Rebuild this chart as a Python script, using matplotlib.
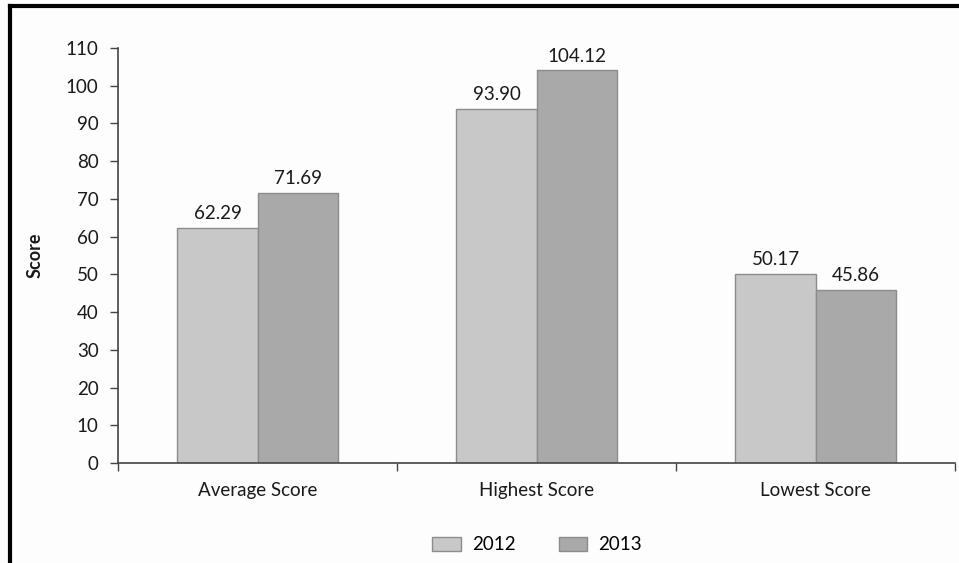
import matplotlib
matplotlib.use("Agg")
import matplotlib.pyplot as plt
from matplotlib.lines import Line2D
from matplotlib.patches import Patch
import numpy as np

categories = ["Average Score", "Highest Score", "Lowest Score"]
years = ["2012", "2013"]
scores_2012 = [62.29, 93.90, 50.17]
scores_2013 = [71.69, 104.12, 45.86]
labels_2012 = ["62.29", "93.90", "50.17"]
labels_2013 = ["71.69", "104.12", "45.86"]
yticks = list(range(0, 111, 10))

plt.rcParams["font.family"] = ["Lato", "DejaVu Sans"]

fig = plt.figure(figsize=(9.59, 5.63), dpi=100)
fig.patch.set_facecolor("#fdfdfd")
ax = fig.add_axes([118 / 959, 1 - 463 / 563, (955 - 118) / 959, (463 - 48) / 563])
ax.set_facecolor("#fdfdfd")

x = np.arange(len(categories))
w = 0.287
c12, c13, edge = "#c8c8c8", "#a9a9a9", "#8c8c8c"
b1 = ax.bar(x - w / 2, scores_2012, w, color=c12, edgecolor=edge, linewidth=1)
b2 = ax.bar(x + w / 2, scores_2013, w, color=c13, edgecolor=edge, linewidth=1)

for bars, labs in ((b1, labels_2012), (b2, labels_2013)):
    for bar, lab in zip(bars, labs):
        ax.annotate(lab, (bar.get_x() + bar.get_width() / 2, bar.get_height()),
                    xytext=(0, 4), textcoords="offset points",
                    ha="center", va="bottom", fontsize=13.5, color="#1a1a1a")

ax.set_xlim(-0.5, len(categories) - 0.5)
ax.set_ylim(0, 110)
ax.set_yticks(yticks)
ax.set_yticklabels([str(t) for t in yticks], fontsize=13.5, color="#1a1a1a")
ax.tick_params(axis="y", direction="out", length=6, width=1, color="#444444", pad=8)

# category separator ticks on the x axis
ax.set_xticks(np.arange(-0.5, len(categories), 1.0))
ax.set_xticklabels([])
ax.set_xticks(x, minor=True)
ax.set_xticklabels(categories, minor=True, fontsize=13.5, color="#1a1a1a")
ax.tick_params(axis="x", which="major", direction="out", length=6, width=1, color="#444444")
ax.tick_params(axis="x", which="minor", length=0, pad=14)

for s in ("top", "right"):
    ax.spines[s].set_visible(False)
for s in ("left", "bottom"):
    ax.spines[s].set_color("#444444")
    ax.spines[s].set_linewidth(1.2)

ax.set_ylabel("Score", fontsize=13, fontweight="bold", color="#1a1a1a", labelpad=16)

handles = [Patch(facecolor=c12, edgecolor=edge, label=years[0]),
           Patch(facecolor=c13, edgecolor=edge, label=years[1])]
fig.legend(handles=handles, loc="center", bbox_to_anchor=(537 / 959, 1 - 545 / 563),
           ncol=2, frameon=False, fontsize=13.5, handlelength=1.5, handleheight=0.8,
           columnspacing=2.3, handletextpad=0.6)

# outer frame
fig.add_artist(Line2D([10 / 959, 10 / 959], [0, 1 - 6 / 563], transform=fig.transFigure,
                      color="black", linewidth=3))
fig.add_artist(Line2D([10 / 959, 1], [1 - 6 / 563, 1 - 6 / 563], transform=fig.transFigure,
                      color="black", linewidth=3))

fig.savefig("out.png", dpi=100, facecolor=fig.get_facecolor())
